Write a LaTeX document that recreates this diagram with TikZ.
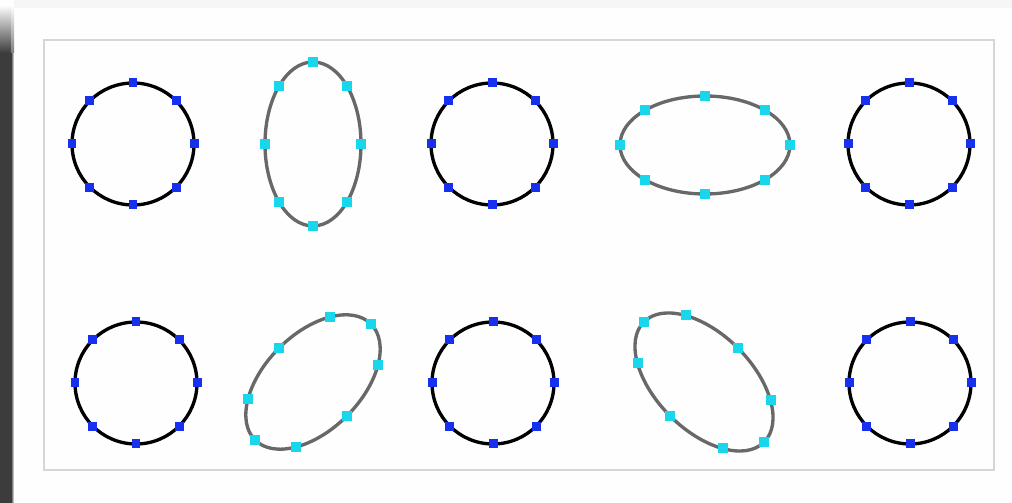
\documentclass[tikz,border=0pt]{standalone}
\usepackage{tikz}
\usetikzlibrary{calc}
\definecolor{dotblue}{RGB}{22,48,238}
\definecolor{dotcyan}{RGB}{24,214,236}
\definecolor{ringgray}{RGB}{104,104,104}
\definecolor{panelline}{RGB}{214,214,214}
\definecolor{stripdark}{RGB}{60,60,60}

\begin{document}
\begin{tikzpicture}[
    x=0.02cm, y=0.02cm,
    ring/.style={draw=black, line width=1.9pt},
    oval/.style={draw=ringgray, line width=1.9pt},
    bdot/.style={rectangle, fill=dotblue, inner sep=0pt, minimum size=0.18cm},
    cdot/.style={rectangle, fill=dotcyan, inner sep=0pt, minimum size=0.2cm},
    panel/.style={draw=panelline, fill=white!99!gray, line width=0.8pt}
]
    % page, side strip and panel
    \fill[white!99!gray] (0,0) rectangle (1012,503);
    \fill[gray!7] (14,495) rectangle (1012,503);
    \fill[stripdark] (0,0) rectangle (11,450);
    \shade[top color=white, bottom color=stripdark] (0,498) rectangle (11,450);
    \shade[left color=stripdark, right color=white!99!gray] (11,0) rectangle (14,450);
    \shade[top color=white, bottom color=gray] (11,498) rectangle (14,450);
    \draw[panel] (44,33) rectangle (994,463);

    % centres
    \coordinate (c1) at (133,359);
    \coordinate (c3) at (492,359);
    \coordinate (c5) at (909,359);
    \coordinate (d1) at (136,120);
    \coordinate (d3) at (493,120);
    \coordinate (d5) at (910,120);

    % circles
    \foreach \c in {c1,c3,c5,d1,d3,d5} {
        \draw[ring] (\c) circle[radius=61];
        \foreach \t in {0,45,...,315}
            \node[bdot] (\c-\t) at ($(\c)+(\t:61)$) {};
    }

    % upright and flat ovals
    \begin{scope}[shift={(313,359)}]
        \draw[oval] (0,0) ellipse[x radius=48, y radius=82];
        \foreach \t in {0,45,...,315}
            \node[cdot] (c2-\t) at (\t:48 and 82) {};
    \end{scope}
    \begin{scope}[shift={(705,358)}]
        \draw[oval] (0,0) ellipse[x radius=85, y radius=49];
        \foreach \t in {0,45,...,315}
            \node[cdot] (c4-\t) at (\t:85 and 49) {};
    \end{scope}

    % tilted ovals
    \begin{scope}[shift={(313,121)}, rotate=-45]
        \draw[oval] (0,0) ellipse[x radius=48, y radius=82];
        \foreach \t in {0,45,...,315}
            \node[cdot] (d2-\t) at (\t:48 and 82) {};
    \end{scope}
    \begin{scope}[shift={(704,121)}, rotate=-45]
        \draw[oval] (0,0) ellipse[x radius=85, y radius=48];
        \foreach \t in {0,45,...,315}
            \node[cdot] (d4-\t) at (\t:85 and 48) {};
    \end{scope}
\end{tikzpicture}
\end{document}
